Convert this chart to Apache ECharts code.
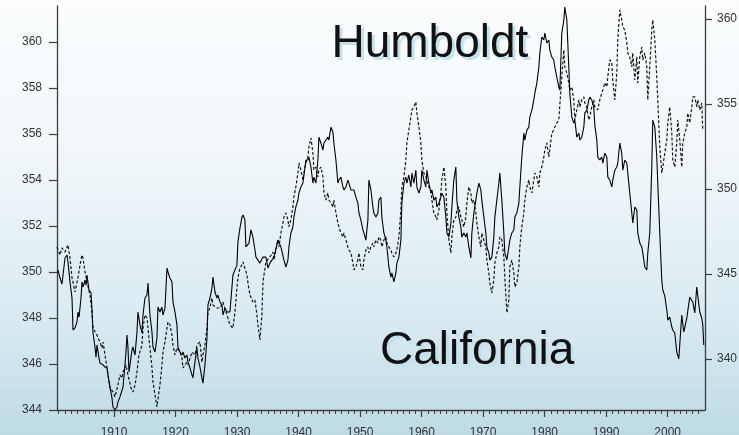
<!DOCTYPE html>
<html>
<head>
<meta charset="utf-8">
<script src="https://cdn.jsdelivr.net/npm/echarts@6/dist/echarts.min.js"></script>
<style>
  html, body { margin: 0; padding: 0; }
  #chart { width: 739px; height: 435px; }
</style>
</head>
<body>
<div id="chart"></div>
<script>
// solid line, left axis
var california = [
  [1900.89,350.09],[1901.22,349.74],[1901.54,349.48],[1902.03,350.61],[1902.36,350.74],[1902.52,350.43],[1902.84,349.57],[1903.17,348.87],[1903.33,347.48],[1903.66,347.57],[1903.98,347.83],[1904.14,348.26],[1904.31,348.04],[1904.63,348.87],[1904.79,349.57],[1904.96,349.35],[1905.28,349.65],[1905.44,349.43],[1905.61,349.87],[1905.93,349.22],[1906.26,349.09],[1906.42,348.35],[1906.58,347.35],[1906.91,346.74],[1907.07,346.30],[1907.23,346.83],[1907.56,346.26],[1907.72,346.04],[1908.04,346.09],[1908.21,345.96],[1908.53,345.87],[1908.86,345.83],[1909.02,345.52],[1909.34,345.00],[1909.67,344.52],[1909.83,344.13],[1910.16,344.00],[1910.48,344.13],[1910.64,344.35],[1910.97,344.57],[1911.29,344.57],[1911.46,345.00],[1911.78,345.96],[1911.94,346.52],[1912.11,347.26],[1912.27,346.70],[1912.43,345.65],[1912.76,346.30],[1912.92,346.61],[1913.08,346.74],[1913.41,346.39],[1913.73,347.39],[1913.89,348.26],[1914.22,347.70],[1914.54,347.35],[1914.71,348.13],[1915.03,348.87],[1915.36,349.00],[1915.52,349.52],[1915.84,348.13],[1916.17,347.39],[1916.33,346.74],[1916.66,346.52],[1916.98,347.13],[1917.14,348.48],[1917.47,348.26],[1917.79,348.48],[1917.96,348.13],[1918.28,348.43],[1918.61,350.17],[1918.77,350.00],[1919.09,349.74],[1919.42,349.57],[1919.58,348.70],[1919.91,348.26],[1920.23,347.70],[1920.39,346.74],[1920.72,346.52],[1921.04,346.39],[1921.21,346.52],[1921.53,346.26],[1921.86,346.39],[1922.02,346.09],[1922.34,345.83],[1922.67,345.52],[1922.83,345.39],[1923.16,346.09],[1923.48,346.70],[1923.64,346.26],[1923.97,345.87],[1924.29,345.39],[1924.46,345.17],[1924.78,345.96],[1925.11,347.13],[1925.27,348.57],[1925.59,348.87],[1925.92,349.30],[1926.08,349.78],[1926.41,349.13],[1926.73,348.87],[1926.89,349.00],[1927.22,348.70],[1927.54,348.57],[1927.71,348.13],[1928.03,348.43],[1928.36,348.26],[1928.84,348.26],[1929.33,349.87],[1929.98,350.30],[1930.14,351.30],[1930.47,351.91],[1930.79,352.39],[1930.96,352.48],[1931.28,352.26],[1931.44,351.09],[1931.93,351.26],[1932.26,351.83],[1932.58,351.52],[1932.91,350.96],[1933.07,350.65],[1933.72,350.39],[1934.21,350.65],[1934.69,350.65],[1935.02,350.17],[1935.34,350.39],[1935.99,350.65],[1936.64,351.39],[1937.13,351.09],[1937.62,350.52],[1937.94,350.22],[1938.27,350.52],[1938.43,351.09],[1938.75,351.70],[1939.08,351.96],[1939.24,352.39],[1939.56,352.83],[1939.89,353.13],[1940.05,353.43],[1940.38,353.70],[1940.71,353.87],[1940.87,353.87],[1941.19,354.87],[1941.52,354.87],[1941.68,355.00],[1942.01,354.57],[1942.33,353.87],[1942.49,354.13],[1942.82,353.87],[1943.14,354.87],[1943.31,355.87],[1943.63,355.61],[1943.96,355.30],[1944.12,355.61],[1944.44,355.74],[1944.77,355.87],[1944.93,355.74],[1945.26,356.30],[1945.58,356.09],[1945.74,355.61],[1946.07,354.87],[1946.39,353.87],[1946.56,354.00],[1946.88,354.13],[1947.21,353.70],[1947.37,353.57],[1947.69,353.70],[1948.02,354.00],[1948.18,353.87],[1948.51,353.57],[1948.83,353.65],[1948.99,353.57],[1949.32,353.26],[1949.64,353.00],[1949.81,352.57],[1950.13,352.26],[1950.46,351.83],[1950.62,351.70],[1950.94,351.39],[1951.27,352.26],[1951.43,354.00],[1951.76,353.57],[1952.08,352.83],[1952.24,352.57],[1952.57,352.39],[1952.89,352.57],[1953.06,353.13],[1953.38,353.26],[1953.54,352.39],[1953.87,351.70],[1954.19,351.39],[1954.36,351.09],[1954.68,350.22],[1955.01,349.78],[1955.17,349.96],[1955.49,349.57],[1955.82,349.96],[1955.98,350.39],[1956.31,350.65],[1956.63,351.39],[1956.79,353.00],[1957.12,353.87],[1957.44,354.13],[1957.61,353.87],[1957.93,354.22],[1958.26,353.70],[1958.42,354.30],[1958.74,353.87],[1959.07,354.43],[1959.23,353.70],[1959.56,353.43],[1959.88,353.70],[1960.04,354.43],[1960.37,354.00],[1960.69,353.70],[1960.86,354.43],[1961.18,353.87],[1961.51,353.43],[1961.67,353.57],[1961.99,353.13],[1962.32,353.26],[1962.48,352.83],[1962.81,353.00],[1963.13,353.26],[1963.29,353.43],[1963.62,353.26],[1963.94,352.39],[1964.11,351.70],[1964.43,351.52],[1964.76,352.13],[1964.92,352.83],[1965.24,354.00],[1965.57,354.57],[1965.73,353.13],[1966.06,352.39],[1966.38,351.96],[1966.54,351.52],[1966.87,351.70],[1967.19,351.52],[1967.36,351.70],[1967.68,351.09],[1968.01,350.61],[1968.17,351.70],[1968.49,352.57],[1968.82,353.13],[1968.98,353.43],[1969.31,353.87],[1969.63,353.57],[1969.79,353.13],[1970.12,352.39],[1970.44,351.70],[1970.61,351.09],[1970.93,350.83],[1971.09,350.52],[1971.42,350.65],[1971.74,351.52],[1971.91,352.39],[1972.23,353.13],[1972.56,353.87],[1972.72,354.30],[1973.04,353.13],[1973.37,351.70],[1973.53,350.83],[1973.86,350.52],[1974.18,351.09],[1974.34,351.39],[1974.67,351.70],[1974.99,351.83],[1975.16,352.39],[1975.48,352.57],[1975.81,353.00],[1975.97,353.70],[1976.29,355.00],[1976.62,356.04],[1976.78,355.74],[1977.11,356.17],[1977.43,356.30],[1977.59,356.74],[1977.92,357.04],[1978.24,357.48],[1978.41,357.78],[1978.73,358.22],[1979.06,358.91],[1979.22,359.52],[1979.54,360.22],[1979.87,360.09],[1980.03,360.39],[1980.36,359.96],[1980.68,360.09],[1980.84,359.65],[1981.17,359.35],[1981.49,359.22],[1981.66,358.91],[1981.98,358.48],[1982.31,358.04],[1982.47,357.91],[1982.79,360.39],[1983.12,360.96],[1983.28,361.52],[1983.61,360.96],[1983.93,358.91],[1984.09,357.78],[1984.42,356.74],[1984.74,356.48],[1984.91,356.61],[1985.23,355.87],[1985.56,356.04],[1985.72,355.74],[1986.04,355.87],[1986.37,356.30],[1986.53,356.91],[1986.86,357.04],[1987.18,357.48],[1987.34,357.61],[1987.67,357.48],[1987.99,357.17],[1988.16,356.39],[1988.48,355.74],[1988.64,355.00],[1988.97,354.87],[1989.29,355.00],[1989.46,354.74],[1989.78,355.17],[1990.11,355.00],[1990.27,354.13],[1990.59,354.00],[1990.92,353.70],[1991.08,354.00],[1991.41,354.43],[1991.73,354.57],[1991.89,354.74],[1992.22,355.61],[1992.54,355.17],[1992.71,354.43],[1993.03,354.87],[1993.36,354.74],[1993.52,354.30],[1993.84,353.43],[1994.17,352.57],[1994.33,352.13],[1994.66,352.83],[1994.98,352.70],[1995.14,351.70],[1995.47,351.26],[1995.79,351.09],[1995.96,350.83],[1996.28,350.22],[1996.61,350.09],[1996.77,350.83],[1997.09,351.70],[1997.42,354.57],[1997.58,356.61],[1997.91,356.30],[1998.23,355.00],[1998.39,353.87],[1998.72,351.70],[1999.04,349.65],[1999.21,349.22],[1999.53,348.96],[1999.86,348.35],[2000.02,347.91],[2000.34,348.04],[2000.67,347.61],[2000.83,347.48],[2001.16,347.35],[2001.48,346.52],[2001.81,346.22],[2001.97,346.30],[2002.29,348.13],[2002.62,347.39],[2003.11,348.00],[2003.59,348.91],[2004.08,348.70],[2004.41,348.22],[2004.73,349.35],[2005.22,348.26],[2005.54,348.00],[2005.71,347.70],[2005.87,346.83]
];

// dashed line, right axis
var humboldt = [
  [1900.73,346.59],[1901.22,346.12],[1901.54,346.53],[1902.03,346.29],[1902.52,346.71],[1902.84,345.94],[1903.17,344.77],[1903.33,344.53],[1903.66,343.94],[1903.98,344.53],[1904.14,344.77],[1904.47,345.53],[1904.79,346.12],[1904.96,345.94],[1905.28,345.12],[1905.61,344.53],[1906.09,343.77],[1906.42,342.77],[1906.58,341.82],[1907.23,341.41],[1907.39,341.24],[1907.72,341.00],[1908.04,340.65],[1908.21,341.00],[1908.53,340.24],[1908.86,339.47],[1909.34,338.29],[1909.83,338.06],[1910.16,337.77],[1910.48,337.88],[1910.64,338.47],[1910.97,339.06],[1911.29,338.88],[1911.46,339.24],[1911.94,339.65],[1912.27,339.06],[1912.76,338.29],[1913.08,338.06],[1913.41,338.47],[1913.73,339.24],[1914.06,340.24],[1914.54,340.82],[1914.71,341.82],[1915.03,342.59],[1915.36,342.41],[1915.52,341.82],[1915.84,340.65],[1916.17,339.47],[1916.33,338.65],[1916.66,337.88],[1916.98,337.18],[1917.14,337.29],[1917.47,338.47],[1917.79,339.65],[1917.96,340.41],[1918.28,341.00],[1918.61,341.82],[1918.77,342.18],[1919.09,342.00],[1919.42,341.41],[1919.58,340.82],[1919.91,340.24],[1920.23,340.65],[1920.72,340.41],[1921.04,340.06],[1921.21,339.47],[1921.86,339.82],[1922.02,339.65],[1922.67,340.41],[1923.16,340.24],[1923.48,340.82],[1923.97,341.00],[1924.29,339.82],[1924.46,340.24],[1924.78,340.82],[1925.11,341.82],[1925.27,342.77],[1925.59,343.00],[1925.92,343.59],[1926.08,343.18],[1926.73,343.00],[1927.22,343.00],[1927.71,343.35],[1928.36,342.59],[1928.84,342.00],[1929.33,341.82],[1929.66,342.77],[1929.98,344.18],[1930.14,344.77],[1930.47,345.35],[1930.79,345.53],[1930.96,345.71],[1931.28,345.82],[1931.61,344.94],[1931.77,344.47],[1932.09,343.77],[1932.58,343.35],[1932.91,343.47],[1933.23,342.59],[1933.39,342.00],[1933.72,341.12],[1934.04,342.59],[1934.21,344.53],[1934.69,345.71],[1935.34,346.00],[1935.83,346.29],[1935.99,345.82],[1936.32,346.41],[1936.64,347.00],[1936.81,346.59],[1937.13,347.41],[1937.46,348.00],[1937.62,348.35],[1937.94,348.59],[1938.27,348.18],[1938.43,347.77],[1938.75,348.18],[1939.08,348.94],[1939.24,349.53],[1939.56,350.12],[1939.89,350.94],[1940.05,351.53],[1940.38,351.12],[1940.71,350.53],[1940.87,350.94],[1941.19,351.53],[1941.52,351.88],[1941.68,352.47],[1942.01,353.00],[1942.33,352.12],[1942.49,351.12],[1942.82,351.29],[1943.14,350.71],[1943.31,351.12],[1943.63,351.29],[1943.96,350.71],[1944.12,349.77],[1944.44,349.35],[1944.77,349.77],[1944.93,349.35],[1945.26,349.18],[1945.58,348.94],[1945.74,349.35],[1946.07,348.59],[1946.39,348.00],[1946.56,347.77],[1946.88,347.41],[1947.21,347.18],[1947.37,347.41],[1947.69,347.00],[1948.02,346.59],[1948.18,346.41],[1948.51,346.24],[1948.83,345.65],[1948.99,345.24],[1949.32,345.41],[1949.64,345.82],[1949.81,346.24],[1950.13,345.41],[1950.46,345.24],[1950.62,345.82],[1950.94,346.41],[1951.27,346.59],[1951.43,346.24],[1951.76,346.59],[1952.08,346.82],[1952.24,346.59],[1952.57,347.00],[1952.89,346.82],[1953.06,347.18],[1953.38,347.00],[1953.54,346.59],[1953.87,347.00],[1954.19,347.18],[1954.36,346.82],[1954.68,346.59],[1955.01,346.41],[1955.17,346.24],[1955.49,346.00],[1955.82,346.24],[1955.98,346.41],[1956.31,347.18],[1956.63,348.76],[1956.79,350.12],[1957.12,350.71],[1957.44,351.71],[1957.61,352.71],[1957.93,353.47],[1958.26,354.24],[1958.42,354.65],[1958.74,354.82],[1959.07,355.12],[1959.23,354.47],[1959.56,353.65],[1959.88,352.71],[1960.04,351.71],[1960.37,350.94],[1960.69,350.71],[1960.86,350.53],[1961.18,350.12],[1961.51,349.94],[1961.67,349.35],[1961.99,348.59],[1962.32,348.35],[1962.48,348.18],[1962.81,348.76],[1963.13,349.77],[1963.29,350.53],[1963.62,351.29],[1963.94,350.12],[1964.11,348.59],[1964.43,347.00],[1964.76,346.24],[1964.92,347.18],[1965.24,348.18],[1965.57,348.35],[1965.73,348.76],[1966.06,348.94],[1966.38,348.35],[1966.54,348.18],[1966.87,347.77],[1967.19,348.35],[1967.36,349.18],[1967.68,350.12],[1968.01,349.77],[1968.17,349.18],[1968.49,349.35],[1968.82,348.59],[1968.98,348.00],[1969.31,347.18],[1969.63,346.59],[1969.79,347.41],[1970.12,347.00],[1970.44,346.59],[1970.61,345.82],[1970.93,345.06],[1971.09,344.47],[1971.42,343.88],[1971.74,344.65],[1971.91,345.65],[1972.23,346.24],[1972.56,346.59],[1972.72,347.18],[1973.04,347.00],[1973.37,346.00],[1973.53,344.82],[1973.86,342.71],[1974.18,343.47],[1974.34,345.41],[1974.67,345.82],[1974.99,345.06],[1975.16,344.24],[1975.48,344.47],[1975.81,345.41],[1975.97,346.59],[1976.29,347.77],[1976.62,348.59],[1976.78,349.35],[1977.11,350.12],[1977.43,350.53],[1977.59,350.12],[1977.92,349.77],[1978.24,350.53],[1978.41,350.94],[1978.73,350.71],[1979.06,350.12],[1979.22,350.94],[1979.54,351.29],[1979.87,351.88],[1980.03,352.29],[1980.36,352.71],[1980.68,351.88],[1980.84,352.29],[1981.17,353.29],[1981.49,353.47],[1981.66,353.65],[1981.98,353.88],[1982.31,354.06],[1982.47,354.06],[1982.79,356.59],[1983.12,358.18],[1983.28,357.18],[1983.61,356.82],[1983.93,356.24],[1984.09,355.82],[1984.42,356.00],[1984.74,355.24],[1984.91,354.06],[1985.23,354.65],[1985.56,355.24],[1985.72,354.82],[1986.04,355.24],[1986.37,355.41],[1986.53,355.06],[1986.86,354.82],[1987.18,354.06],[1987.34,354.24],[1987.67,354.82],[1987.99,355.24],[1988.16,354.82],[1988.64,354.65],[1988.97,355.24],[1989.29,355.65],[1989.46,355.82],[1989.78,356.24],[1990.11,356.00],[1990.27,356.59],[1990.59,357.59],[1990.92,357.41],[1991.08,356.41],[1991.41,355.24],[1991.73,356.82],[1991.89,358.77],[1992.22,360.53],[1992.54,359.94],[1992.71,359.53],[1993.03,359.35],[1993.36,358.59],[1993.52,358.00],[1993.84,357.77],[1994.17,357.18],[1994.33,358.00],[1994.66,356.41],[1994.98,357.77],[1995.14,356.24],[1995.47,357.77],[1995.79,358.35],[1995.96,357.59],[1996.28,358.00],[1996.61,357.18],[1996.77,355.24],[1997.09,357.18],[1997.42,359.35],[1997.58,359.94],[1997.91,358.77],[1998.23,356.59],[1998.39,355.24],[1998.72,352.47],[1999.04,350.94],[1999.21,351.29],[1999.53,352.12],[1999.86,352.88],[2000.02,353.88],[2000.34,354.82],[2000.67,353.29],[2000.83,351.71],[2001.16,351.29],[2001.48,352.71],[2001.64,354.06],[2001.97,352.88],[2002.29,351.29],[2002.46,352.71],[2002.78,353.29],[2003.11,353.65],[2003.27,354.47],[2003.59,353.88],[2003.92,354.82],[2004.08,355.41],[2004.41,355.41],[2004.73,354.82],[2004.89,355.24],[2005.22,354.65],[2005.54,355.06],[2005.71,353.47]
];

var decadeLabels = [1910, 1920, 1930, 1940, 1950, 1960, 1970, 1980, 1990, 2000];
var leftTicks = [344, 346, 348, 350, 352, 354, 356, 358, 360];
var rightTicks = [340, 345, 350, 355, 360];
var yearTicks = [];
for (var yr = 1901; yr <= 2005; yr++) yearTicks.push(yr);

var axisColor = '#3d3d3d';
var labelColor = '#333';
var fontStack = '"Liberation Sans", Arial, sans-serif';

var chart = echarts.init(document.getElementById('chart'), null, { renderer: 'canvas' });

chart.setOption({
  animation: false,
  backgroundColor: new echarts.graphic.LinearGradient(0, 0, 0, 1, [
    { offset: 0, color: '#fbfdfe' },
    { offset: 0.35, color: '#f1f7fa' },
    { offset: 0.7, color: '#dcecf2' },
    { offset: 1, color: '#bedbe5' }
  ]),
  grid: { left: 57, right: 34, top: 6, bottom: 25, containLabel: false, outerBoundsMode: 'none' },
  xAxis: [{
    type: 'value',
    min: 1900.73,
    max: 2006.07,
    position: 'bottom',
    splitLine: { show: false },
    axisLine: { show: true, lineStyle: { color: axisColor, width: 1.3 } },
    axisTick: { show: true, customValues: yearTicks, length: 4, lineStyle: { color: axisColor, width: 1 } },
    axisLabel: { show: false }
  }, {
    type: 'value',
    min: 1900.73,
    max: 2006.07,
    position: 'bottom',
    splitLine: { show: false },
    axisLine: { show: false },
    axisTick: { show: true, customValues: decadeLabels, length: 7, lineStyle: { color: axisColor, width: 1.2 } },
    axisLabel: {
      customValues: decadeLabels,
      formatter: function (v) { return String(v); },
      margin: 17,
      color: labelColor,
      fontFamily: fontStack,
      fontSize: 12
    }
  }],
  yAxis: [{
    type: 'value',
    min: 344,
    max: 361.57,
    position: 'left',
    splitLine: { show: false },
    axisLine: { show: true, lineStyle: { color: axisColor, width: 1.3 } },
    axisTick: { show: true, customValues: leftTicks, length: 8, lineStyle: { color: axisColor, width: 1.2 } },
    axisLabel: { customValues: leftTicks, margin: 15, color: labelColor, fontFamily: fontStack, fontSize: 12 }
  }, {
    type: 'value',
    min: 337,
    max: 360.76,
    position: 'right',
    splitLine: { show: false },
    axisLine: { show: true, lineStyle: { color: axisColor, width: 1.3 } },
    axisTick: { show: true, customValues: rightTicks, length: 7, lineStyle: { color: axisColor, width: 1.2 } },
    axisLabel: { customValues: rightTicks, margin: 12, color: labelColor, fontFamily: fontStack, fontSize: 12 }
  }],
  series: [{
    name: 'Humboldt',
    type: 'line',
    xAxisIndex: 0,
    yAxisIndex: 1,
    data: humboldt,
    symbol: 'none',
    z: 2,
    lineStyle: { color: '#151515', width: 1.2, type: [3, 2] }
  }, {
    name: 'California',
    type: 'line',
    xAxisIndex: 0,
    yAxisIndex: 0,
    data: california,
    symbol: 'none',
    z: 3,
    lineStyle: { color: '#000', width: 1.1 }
  }],
  graphic: [
    { type: 'text', x: 334.5, y: 47.5, z: 5, style: { text: 'Humboldt', font: '46px ' + fontStack, fill: '#c3e2ee', verticalAlign: 'middle' } },
    { type: 'text', x: 331.5, y: 44.5, z: 6, style: { text: 'Humboldt', font: '46px ' + fontStack, fill: '#111', verticalAlign: 'middle' } },
    { type: 'text', x: 383, y: 354, z: 5, style: { text: 'California', font: '46px ' + fontStack, fill: '#c3e2ee', verticalAlign: 'middle' } },
    { type: 'text', x: 380, y: 351, z: 6, style: { text: 'California', font: '46px ' + fontStack, fill: '#111', verticalAlign: 'middle' } }
  ]
});
</script>
</body>
</html>
